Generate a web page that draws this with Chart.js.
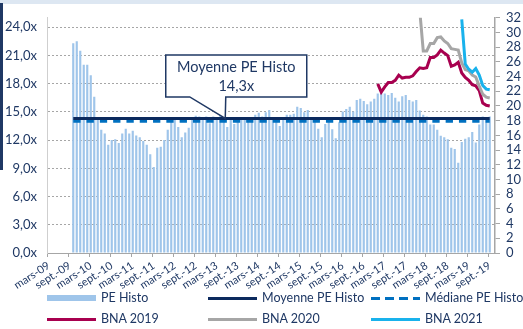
<!DOCTYPE html>
<html>
<head>
<meta charset="utf-8">
<script src="https://cdn.jsdelivr.net/npm/chart.js@4"></script>
<style>
  html, body { margin: 0; padding: 0; background: #fff; }
  #wrap { position: relative; width: 523px; height: 329px; overflow: hidden; font-family: Lato, sans-serif; }
  #c { position: absolute; left: 0; top: 0; }
  #band { position: absolute; left: 0; top: 0; width: 523px; height: 4px; background: #dde7f2; }
  #edge { position: absolute; left: 0; top: 3px; width: 3px; height: 167px; background: #1f3864; }
  .lg { position: absolute; font-size: 12.5px; color: #1f3864; line-height: 14px; white-space: nowrap; }
  .sw { position: absolute; height: 3px; }
</style>
</head>
<body>
<div id="wrap">
  <canvas id="c" width="523" height="329"></canvas>
  <div id="band"></div>
  <div id="edge"></div>
  <div id="legend"></div>
</div>
<script>
// Monthly categories, mars-09 to oct.-19
const MONTHS_FR = ['janv.', 'févr.', 'mars', 'avr.', 'mai', 'juin', 'juil.', 'août', 'sept.', 'oct.', 'nov.', 'déc.'];
const START_YEAR = 2009, START_MONTH = 2, MONTH_COUNT = 128;
const CATEGORIES = [];
for (let k = 0; k < MONTH_COUNT; k++) {
  const m = (START_MONTH + k) % 12;
  const yr = START_YEAR + Math.floor((START_MONTH + k) / 12);
  CATEGORIES.push(MONTHS_FR[m] + '-' + String(yr).slice(2));
}
const LABEL_EVERY = 6;

// Historical PE (left axis, x)
const PE_HISTO = [
  null, null, null, null, null, null, null,
  22.3, 22.5, 21.5, 20.0, 20.0, 18.9, 16.6, 14.2, 13.1, 12.7,
  11.5, 12.0, 12.1, 11.7, 12.7, 13.2, 12.7, 13.0, 12.5, 12.3,
  11.9, 11.5, 10.5, 9.15, 11.2, 11.3, 12.0, 13.1, 14.1, 14.2,
  13.4, 12.3, 12.8, 13.3, 14.4, 14.6, 14.5, 14.4, 14.5, 13.8,
  14.5, 14.3, 14.8, 14.0, 13.4, 14.4, 13.7, 14.0, 14.3, 14.4,
  14.0, 14.3, 14.7, 14.9, 14.5, 14.95, 15.2, 14.4, 14.3, 13.5,
  14.3, 14.7, 14.7, 14.8, 15.55, 15.4, 14.95, 15.2, 14.3, 14.0,
  13.2, 12.3, 13.7, 14.0, 13.15, 12.2, 13.9, 15.05, 15.3, 15.55,
  15.05, 16.25, 16.4, 16.15, 15.8, 16.1, 16.4, 16.95, 17.0, 16.95,
  16.8, 17.0, 16.5, 16.1, 16.65, 16.8, 16.25, 16.1, 16.25, 15.15,
  14.7, 14.5, 13.65, 13.65, 13.1, 12.45, 12.3, 12.1, 11.2, 11.05,
  9.6, 11.8, 12.15, 12.3, 12.85, 11.75, 13.65, 14.5, 14.35, 14.5,
  null
];
const MEAN_PE = 14.3;
const MEDIAN_PE = 14.0;

// Forward PE on expected EPS (right axis)
const BNA_2019_START = 94;
const BNA_2019 = [23.0, 21.9, 22.6, 23.2, 23.2, 23.5, 24.2, 23.8, 23.9, 23.9, 24.1,
  24.7, 25.2, 25.1, 25.2, 26.6, 26.6, 26.95, 27.6, 27.2, 26.85, 25.4,
  25.6, 25.95, 24.5, 23.9, 23.5, 22.9, 22.75, 22.1, 20.4, 20.1, 20.0];
const BNA_2020_START = 106;
const BNA_2020 = [33.0, 27.5, 27.5, 28.5, 28.5, 29.3, 29.4, 28.85, 28.5, 27.8, 27.7,
  27.6, 25.85, 24.95, 24.8, 24.2, 23.95, 22.7, 21.6, 21.2, 21.1];
const BNA_2021_START = 118;
const BNA_2021 = [31.8, 25.7, 25.0, 24.6, 25.1, 24.2, 22.8, 22.3, 22.2];

const LEFT_TICKS = [0, 3, 6, 9, 12, 15, 18, 21, 24];
const LEFT_MAX = 25, RIGHT_MAX = 32, RIGHT_STEP = 2;
const CALLOUT_INDEX = 50;

const NAVY = '#1f3864';
const COL = { bar: '#9fc5ea', mean: '#0c2a5e', median: '#0070c0', b19: '#a8004f', b20: '#a6a6a6', b21: '#19b2ec' };

// place a series onto the full month axis
function placeSeries(start, values) {
  const out = new Array(MONTH_COUNT).fill(null);
  values.forEach((v, k) => { out[start + k] = v; });
  return out;
}
// constant reference line over the months that have history
const FIRST_HISTO = PE_HISTO.findIndex(v => v !== null);
const LAST_HISTO = PE_HISTO.length - 1 - [...PE_HISTO].reverse().findIndex(v => v !== null);
const histoLine = v => PE_HISTO.map((p, k) => (k >= FIRST_HISTO && k <= LAST_HISTO ? v : null));

const fmtX = v => v.toFixed(1).replace('.', ',') + 'x';

const calloutPlugin = {
  id: 'callout',
  afterDatasetsDraw(chart) {
    const { ctx, scales: { x, y } } = chart;
    const tx = x.getPixelForValue(CALLOUT_INDEX) + 1.5;
    const ty = y.getPixelForValue(MEAN_PE);
    const L = tx - 59.5, R = tx + 81.5, T = ty - 63.5, B = ty - 21.5;
    ctx.save();
    ctx.beginPath();
    ctx.moveTo(L, T); ctx.lineTo(R, T); ctx.lineTo(R, B);
    ctx.lineTo(tx + 0.5, B); ctx.lineTo(tx, ty); ctx.lineTo(tx - 35.5, B);
    ctx.lineTo(L, B); ctx.closePath();
    ctx.fillStyle = '#fff'; ctx.fill();
    ctx.lineWidth = 1.5; ctx.strokeStyle = NAVY; ctx.lineJoin = 'miter'; ctx.stroke();
    ctx.fillStyle = NAVY;
    ctx.font = '14.5px Lato';
    ctx.textAlign = 'center'; ctx.textBaseline = 'middle';
    ctx.fillText('Moyenne PE Histo', (L + R) / 2, T + 12.5);
    ctx.fillText(fmtX(MEAN_PE), (L + R) / 2, T + 31);
    ctx.restore();
  }
};

Chart.defaults.font.family = 'Lato';

new Chart(document.getElementById('c'), {
  type: 'bar',
  data: {
    labels: CATEGORIES,
    datasets: [
      { type: 'line', label: 'BNA 2021', data: placeSeries(BNA_2021_START, BNA_2021), yAxisID: 'y2',
        borderColor: COL.b21, borderWidth: 3, pointRadius: 0, tension: 0, order: 0 },
      { type: 'line', label: 'BNA 2020', data: placeSeries(BNA_2020_START, BNA_2020), yAxisID: 'y2',
        borderColor: COL.b20, borderWidth: 3, pointRadius: 0, tension: 0, order: 1 },
      { type: 'line', label: 'BNA 2019', data: placeSeries(BNA_2019_START, BNA_2019), yAxisID: 'y2',
        borderColor: COL.b19, borderWidth: 3, pointRadius: 0, tension: 0, order: 2 },
      { type: 'line', label: 'Moyenne PE Histo', data: histoLine(MEAN_PE), yAxisID: 'y',
        borderColor: COL.mean, borderWidth: 3, pointRadius: 0, order: 3 },
      { type: 'line', label: 'Médiane PE Histo', data: histoLine(MEDIAN_PE), yAxisID: 'y',
        borderColor: COL.median, borderWidth: 3, borderDash: [7.3, 6], pointRadius: 0, order: 4 },
      { type: 'bar', label: 'PE Histo', data: PE_HISTO, yAxisID: 'y',
        backgroundColor: COL.bar, barPercentage: 0.62, categoryPercentage: 1, order: 5 }
    ]
  },
  options: {
    responsive: false,
    animation: false,
    devicePixelRatio: 1,
    layout: { padding: { top: 12, left: 0, right: 0, bottom: 0 } },
    plugins: { legend: { display: false }, tooltip: { enabled: false } },
    scales: {
      x: {
        offset: true,
        grid: {
          offset: true, drawOnChartArea: false, drawTicks: true, tickLength: 4, lineWidth: 1,
          color: c => (c.index % LABEL_EVERY === 0 ? '#a6a6a6' : 'rgba(0,0,0,0)')
        },
        border: { display: true, color: '#a6a6a6', width: 1 },
        ticks: {
          autoSkip: false, maxRotation: 33, minRotation: 33, padding: 2,
          color: NAVY, font: { size: 11 },
          callback: (v, i) => (i % LABEL_EVERY === 0 ? CATEGORIES[i] : '')
        },
        afterFit: s => { s.height = 76; }
      },
      y: {
        position: 'left', min: 0, max: LEFT_MAX,
        afterBuildTicks: s => { s.ticks = LEFT_TICKS.map(v => ({ value: v })); },
        ticks: { autoSkip: false, color: NAVY, font: { size: 13 }, padding: 10, callback: v => fmtX(v) },
        grid: { color: '#a6a6a6', drawTicks: false, lineWidth: 1 },
        border: { display: true, color: '#cfcfcf', width: 1, dash: [2, 2] },
        afterFit: s => { s.width = 47; }
      },
      y2: {
        position: 'right', min: 0, max: RIGHT_MAX,
        ticks: { autoSkip: false, stepSize: RIGHT_STEP, color: NAVY, font: { size: 13 }, padding: 6 },
        grid: { drawOnChartArea: false, color: '#a6a6a6', tickLength: 5, lineWidth: 1 },
        border: { display: true, color: '#a6a6a6', width: 1.5 },
        afterFit: s => { s.width = 28; }
      }
    }
  },
  plugins: [calloutPlugin]
});

// Legend, two rows of three entries
const LEGEND = [
  { text: 'PE Histo', kind: 'bar', color: COL.bar, x: 47, y: 298 },
  { text: 'Moyenne PE Histo', kind: 'line', color: COL.mean, x: 208, y: 298 },
  { text: 'Médiane PE Histo', kind: 'dash', color: COL.median, x: 371, y: 298 },
  { text: 'BNA 2019', kind: 'line', color: COL.b19, x: 47, y: 319 },
  { text: 'BNA 2020', kind: 'line', color: COL.b20, x: 208, y: 319 },
  { text: 'BNA 2021', kind: 'line', color: COL.b21, x: 371, y: 319 }
];
const lg = document.getElementById('legend');
LEGEND.forEach(e => {
  const sw = document.createElement('div');
  sw.className = 'sw';
  sw.style.left = e.x + 'px';
  sw.style.width = '49px';
  if (e.kind === 'bar') {
    sw.style.top = (e.y - 3) + 'px'; sw.style.height = '6px'; sw.style.background = e.color;
  } else if (e.kind === 'dash') {
    sw.style.top = (e.y - 1.5) + 'px';
    sw.style.background = `repeating-linear-gradient(90deg, ${e.color} 0 9px, transparent 9px 14px)`;
  } else {
    sw.style.top = (e.y - 1.5) + 'px'; sw.style.background = e.color;
  }
  lg.appendChild(sw);
  const t = document.createElement('div');
  t.className = 'lg';
  t.style.left = (e.x + 54) + 'px';
  t.style.top = (e.y - 7.5) + 'px';
  t.textContent = e.text;
  lg.appendChild(t);
});
</script>
</body>
</html>
